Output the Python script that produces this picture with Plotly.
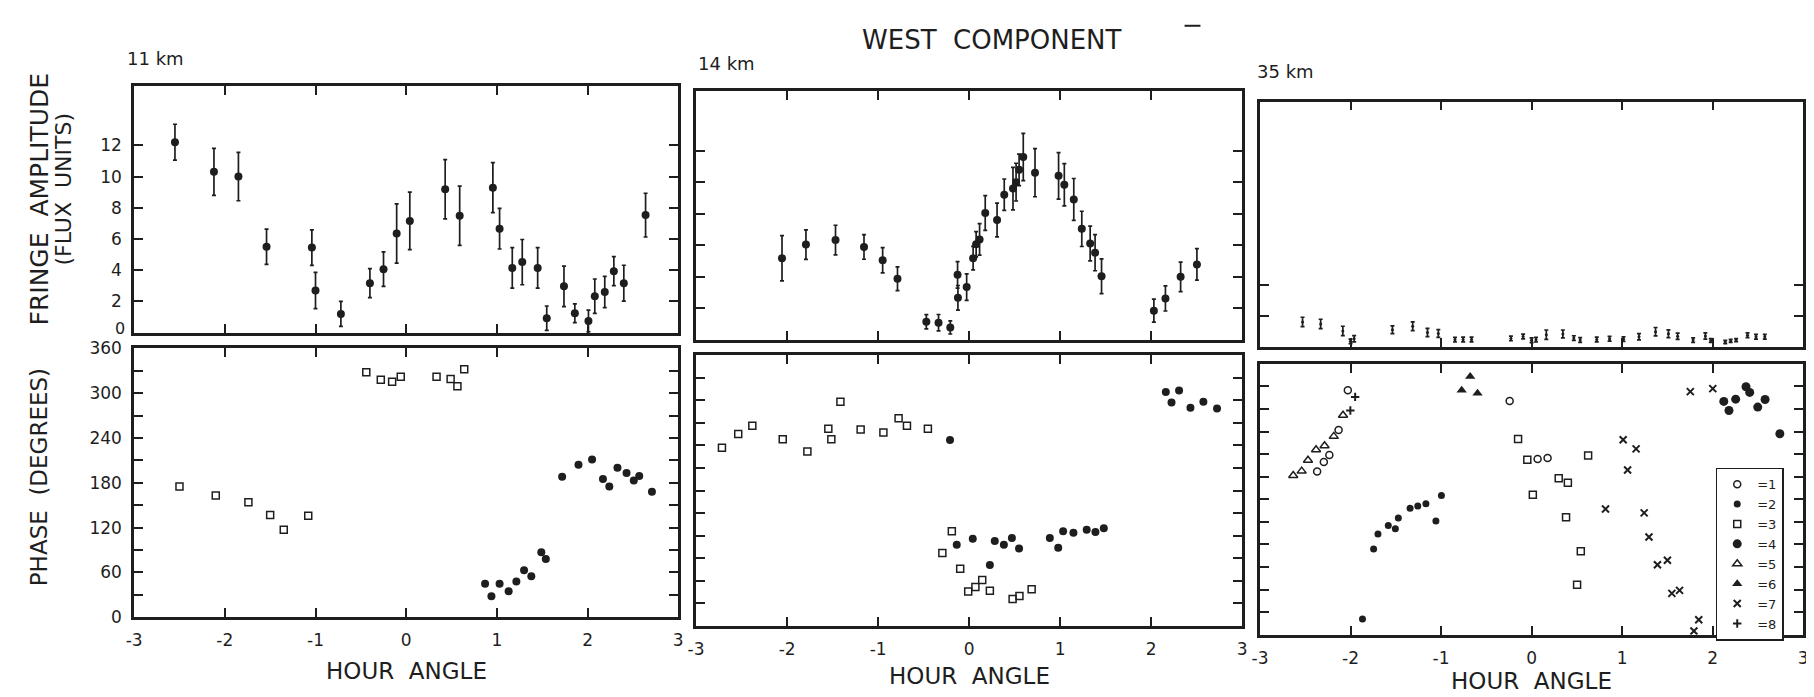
import plotly.graph_objects as go

W, H = 1814, 697
INK = "#1e1e1e"
FONT = "DejaVu Sans"

# ---------------- data ----------------
# 11 km fringe amplitude
amp11_ha = [-2.55, -2.12, -1.85, -1.54, -1.04, -1.00, -0.72, -0.40, -0.25, -0.105, 0.04, 0.43, 0.59,
            0.956, 1.03, 1.17, 1.28, 1.45, 1.55, 1.74, 1.86, 2.01, 2.08, 2.19, 2.29, 2.40, 2.64]
amp11_val = [12.2, 10.3, 10.0, 5.5, 5.45, 2.7, 1.2, 3.17, 4.07, 6.35, 7.16, 9.19, 7.49,
             9.29, 6.66, 4.15, 4.52, 4.15, 0.93, 2.97, 1.24, 0.75, 2.34, 2.61, 3.94, 3.17, 7.53]
amp11_err = [1.15, 1.5, 1.55, 1.13, 1.14, 1.16, 0.8, 0.93, 1.1, 1.9, 1.84, 1.9, 1.9,
             1.6, 1.3, 1.3, 1.45, 1.3, 0.78, 1.3, 0.6, 0.7, 1.1, 1.0, 0.93, 1.15, 1.4]

# 11 km phase
ph11_sq_ha = [-2.50, -2.10, -1.74, -1.50, -1.35, -1.08, -0.44, -0.28, -0.155, -0.06, 0.335, 0.49, 0.565, 0.64]
ph11_sq_val = [175, 163, 154, 137, 117, 136, 328, 318, 315, 322, 322, 319, 309, 332]
ph11_dot_ha = [0.87, 0.94, 1.03, 1.13, 1.215, 1.30, 1.38, 1.49, 1.54, 1.72, 1.90, 2.05, 2.17, 2.24,
               2.33, 2.43, 2.51, 2.57, 2.71]
ph11_dot_val = [45, 28, 45, 35, 48, 63, 55, 87, 78, 188, 204, 211, 185, 175, 200, 193, 183, 189, 168]

# 14 km fringe amplitude
amp14_ha = [-2.056, -1.793, -1.468, -1.155, -0.95, -0.787, -0.47, -0.336, -0.207, -0.127, -0.123,
            -0.027, 0.044, 0.077, 0.115, 0.177, 0.307, 0.386, 0.482, 0.516, 0.549, 0.595, 0.724,
            0.983, 1.046, 1.15, 1.238, 1.33, 1.384, 1.455, 2.03, 2.157, 2.324, 2.503]
amp14_val = [5.16, 6.03, 6.32, 5.88, 5.04, 3.86, 1.13, 1.07, 0.77, 4.11, 2.65,
             3.33, 5.17, 6.05, 6.36, 8.04, 7.59, 9.2, 9.59, 10.0, 10.78, 11.6, 10.6,
             10.4, 9.83, 8.9, 7.03, 6.1, 5.52, 4.02, 1.83, 2.61, 3.98, 4.77]
amp14_err = [1.44, 0.94, 0.94, 0.78, 0.8, 0.76, 0.45, 0.52, 0.42, 0.84, 0.78,
             0.84, 0.75, 0.8, 1.0, 1.1, 1.07, 1.0, 1.35, 1.2, 1.0, 1.5, 1.53,
             1.48, 1.34, 1.33, 1.12, 1.1, 1.15, 1.1, 0.73, 0.8, 0.94, 1.0]

# 14 km phase
ph14_sq_ha = [-2.716, -2.537, -2.382, -2.048, -1.777, -1.547, -1.514, -1.414, -1.192, -0.942, -0.775,
              -0.683, -0.453, -0.294, -0.19, -0.098, -0.01, 0.069, 0.144, 0.228, 0.478, 0.553, 0.687]
ph14_sq_val = [237, 255, 266, 248, 232, 262, 248, 298, 261, 257, 276,
               266, 262, 97, 126, 76, 46, 52, 61, 47, 36, 40, 49]
ph14_dot_ha = [-0.21, -0.136, 0.04, 0.228, 0.282, 0.382, 0.47, 0.549, 0.887, 0.979, 1.033, 1.146,
               1.292, 1.388, 1.48, 2.161, 2.224, 2.307, 2.432, 2.574, 2.724]
ph14_dot_val = [247, 108, 116, 81, 113, 108, 117, 103, 117, 104, 126, 124,
                128, 125, 130, 311, 297, 313, 290, 298, 289]

# 35 km fringe amplitude
amp35_ha = [-2.53, -2.33, -2.085, -2.0, -1.96, -1.537, -1.313, -1.15, -1.03, -0.846, -0.756, -0.663,
            -0.228, -0.093, 0.0, 0.049, 0.163, 0.346, 0.467, 0.537, 0.72, 0.862, 1.016, 1.187,
            1.37, 1.512, 1.614, 1.785, 1.92, 1.98, 2.14, 2.2, 2.26, 2.386, 2.48, 2.577]
amp35_val = [1.63, 1.5, 1.05, 0.38, 0.55, 1.13, 1.35, 0.95, 0.88, 0.49, 0.5, 0.5,
             0.57, 0.69, 0.45, 0.49, 0.81, 0.86, 0.59, 0.47, 0.5, 0.55, 0.52, 0.68,
             1.0, 0.87, 0.71, 0.46, 0.73, 0.43, 0.34, 0.41, 0.46, 0.77, 0.68, 0.68]
amp35_err = [0.3, 0.3, 0.3, 0.15, 0.2, 0.25, 0.28, 0.27, 0.25, 0.15, 0.15, 0.15,
             0.15, 0.15, 0.15, 0.15, 0.3, 0.25, 0.15, 0.15, 0.15, 0.15, 0.15, 0.2,
             0.27, 0.25, 0.2, 0.15, 0.2, 0.12, 0.1, 0.1, 0.1, 0.15, 0.15, 0.15]

# 35 km phase, eight observing series
ph35_s1_ha = [-2.369, -2.295, -2.234, -2.132, -2.03, -0.242, 0.067, 0.177]
ph35_s1_val = [217, 229.5, 238.7, 272, 325, 310.5, 233.5, 235]
ph35_s2_ha = [-1.868, -1.745, -1.697, -1.583, -1.505, -1.472, -1.342, -1.257, -1.167, -1.057, -0.996]
ph35_s2_val = [21, 114, 134, 145, 141, 155, 168, 171, 174, 151, 185]
ph35_s3_ha = [-0.149, -0.047, 0.014, 0.3, 0.401, 0.381, 0.544, 0.503, 0.625]
ph35_s3_val = [260, 232.5, 186, 208, 202, 156, 111, 66.5, 238]
ph35_s4_ha = [2.124, 2.181, 2.255, 2.369, 2.41, 2.499, 2.58, 2.743]
ph35_s4_val = [310, 298, 313, 329.5, 322, 302.5, 312.6, 267]
ph35_s5_ha = [-2.633, -2.54, -2.47, -2.381, -2.287, -2.185, -2.083]
ph35_s5_val = [211.5, 217.4, 231.8, 245.8, 251.1, 263.6, 291.6]
ph35_s6_ha = [-0.772, -0.678, -0.597]
ph35_s6_val = [325, 343, 321]
ph35_s7_ha = [0.817, 1.012, 1.061, 1.155, 1.244, 1.297, 1.391, 1.501, 1.55, 1.635, 1.754, 1.794, 1.847, 2.002]
ph35_s7_val = [167, 259, 219, 247, 162, 130, 93, 99, 55, 59, 323, 5, 20, 327]
ph35_s8_ha = [-2.002, -1.949]
ph35_s8_val = [298, 316]

series_labels = ["=1", "=2", "=3", "=4", "=5", "=6", "=7", "=8"]
x_ticks = [-3, -2, -1, 0, 1, 2, 3]
x_tick_text = ["-3", "-2", "-1", "0", "1", "2", "3"]
amp_ticks = [0, 2, 4, 6, 8, 10, 12]
amp_tick_text = ["", "2", "4", "6", "8", "10", "12"]   # "0" drawn as separate label
phase_ticks = [0, 30, 60, 90, 120, 150, 180, 210, 240, 270, 300, 330, 360]
phase_tick_text = ["0", "", "60", "", "120", "", "180", "", "240", "", "300", "", "360"]

# ---------------- layout geometry (pixels) ----------------
cols = [(119, 667), (685, 1235), (1253, 1800)]
top_rows = [(70, 324), (75, 331), (86, 339)]
bot_rows = [(340, 617), (347, 626), (356, 635)]


def px_x(a, b):
    return [a / W, b / W]


def px_y(top, bottom):
    return [1 - bottom / H, 1 - top / H]


fig = go.Figure()

err_style = dict(type="data", thickness=1.7, width=2, color=INK)


def add(x, y, ax, marker, err=None, name=None, legend=False):
    fig.add_trace(go.Scatter(
        x=x, y=y, mode="markers", marker=marker, name=name, showlegend=legend,
        error_y=dict(array=err, **err_style) if err is not None else None,
        xaxis="x" + ("" if ax == 1 else str(ax)), yaxis="y" + ("" if ax == 1 else str(ax)),
        hoverinfo="x+y"))


dot = dict(symbol="circle", size=8, color=INK)
sq = dict(symbol="square-open", size=7, color=INK, line=dict(width=1.5, color=INK))

# top row
add(amp11_ha, amp11_val, 1, dot, amp11_err)
add(amp14_ha, amp14_val, 2, dot, amp14_err)
add(amp35_ha, amp35_val, 3, dict(symbol="circle", size=3, color=INK), amp35_err)
# bottom row
add(ph11_sq_ha, ph11_sq_val, 4, sq)
add(ph11_dot_ha, ph11_dot_val, 4, dot)
add(ph14_sq_ha, ph14_sq_val, 5, sq)
add(ph14_dot_ha, ph14_dot_val, 5, dot)

sym35 = [
    dict(symbol="circle-open", size=7, color=INK, line=dict(width=1.5, color=INK)),
    dict(symbol="circle", size=7, color=INK),
    dict(symbol="square-open", size=7, color=INK, line=dict(width=1.5, color=INK)),
    dict(symbol="circle", size=9, color=INK),
    dict(symbol="triangle-up-open", size=8, color=INK, line=dict(width=1.5, color=INK)),
    dict(symbol="triangle-up", size=9, color=INK),
    dict(symbol="x-thin-open", size=7, color=INK, line=dict(width=2, color=INK)),
    dict(symbol="cross-thin-open", size=6, color=INK, line=dict(width=2, color=INK)),
]
ph35 = [(ph35_s1_ha, ph35_s1_val), (ph35_s2_ha, ph35_s2_val), (ph35_s3_ha, ph35_s3_val),
        (ph35_s4_ha, ph35_s4_val), (ph35_s5_ha, ph35_s5_val), (ph35_s6_ha, ph35_s6_val),
        (ph35_s7_ha, ph35_s7_val), (ph35_s8_ha, ph35_s8_val)]
for (hx, hv), m, lab in zip(ph35, sym35, series_labels):
    add(hx, hv, 6, m, name=lab, legend=True)

axis_common = dict(showline=True, linewidth=2.6, linecolor=INK, mirror="ticks", ticks="inside",
                   ticklen=9, tickwidth=2, tickcolor=INK, showgrid=False, zeroline=False,
                   tickfont=dict(family=FONT, size=17, color=INK))

layout_axes = {}
for i in range(3):
    c = cols[i]
    xa = "xaxis" if i == 0 else f"xaxis{i + 1}"
    ya = "yaxis" if i == 0 else f"yaxis{i + 1}"
    anchor_x = "x" if i == 0 else f"x{i + 1}"
    anchor_y = "y" if i == 0 else f"y{i + 1}"
    layout_axes[xa] = dict(axis_common, domain=px_x(*c), range=[-3, 3], tickvals=x_ticks,
                           showticklabels=False, anchor=anchor_y)
    ytv = amp_ticks if i < 2 else [2, 4]
    ytt = amp_tick_text if i < 2 else ["4", "2"]
    layout_axes[ya] = dict(axis_common, domain=px_y(*top_rows[i]), range=[0, 15.8], tickvals=ytv,
                           ticktext=ytt, showticklabels=(i == 0),
                           ticklabelstandoff=6, anchor=anchor_x)
    j = i + 4
    layout_axes[f"xaxis{j}"] = dict(axis_common, domain=px_x(*c), range=[-3, 3], tickvals=x_ticks,
                                    ticktext=x_tick_text, showticklabels=True,
                                    ticklabelstandoff=6, anchor=f"y{j}")
    layout_axes[f"yaxis{j}"] = dict(axis_common, domain=px_y(*bot_rows[i]), range=[0, 360],
                                    tickvals=phase_ticks, ticktext=phase_tick_text,
                                    showticklabels=(i == 0), ticklabelstandoff=6, anchor=f"x{j}")

ann_font = dict(family=FONT, color=INK)


def ann(text, x, y, size, angle=0, xanchor="center", yanchor="middle"):
    return dict(text=text, x=x / W, y=1 - y / H, xref="paper", yref="paper", showarrow=False,
                xanchor=xanchor, yanchor=yanchor, textangle=angle, font=dict(ann_font, size=size))


annotations = [
    ann("WEST  COMPONENT", 983, 23, 26),
    ann("11 km", 141, 42, 18),
    ann("14 km", 716, 47, 18),
    ann("35 km", 1279, 55, 18),
    ann("FRINGE  AMPLITUDE", 24, 186, 25, -90),
    ann("(FLUX  UNITS)", 48, 176, 22, -90),
    ann("PHASE  (DEGREES)", 24, 473, 23, -90),
    ann("HOUR  ANGLE", 393, 672, 23),
    ann("HOUR  ANGLE", 960, 677, 23),
    ann("HOUR  ANGLE", 1526, 683, 23),
    ann("0", 112, 331, 16, xanchor="right", yanchor="bottom"),
]

fig.update_layout(
    width=W, height=H, margin=dict(l=0, r=0, t=0, b=0),
    paper_bgcolor="white", plot_bgcolor="white",
    annotations=annotations,
    shapes=[dict(type="line", xref="paper", yref="paper", x0=1177 / W, x1=1193 / W,
                 y0=1 - 8 / H, y1=1 - 8 / H, line=dict(color=INK, width=2))],
    legend=dict(x=1712 / W, y=1 - 463 / H, xanchor="left", yanchor="top",
                bordercolor=INK, borderwidth=1.5, bgcolor="white",
                font=dict(family=FONT, size=13, color=INK), tracegroupgap=0,
                itemwidth=30, itemsizing="trace"),
    **layout_axes,
)

fig.write_html("out.html")
